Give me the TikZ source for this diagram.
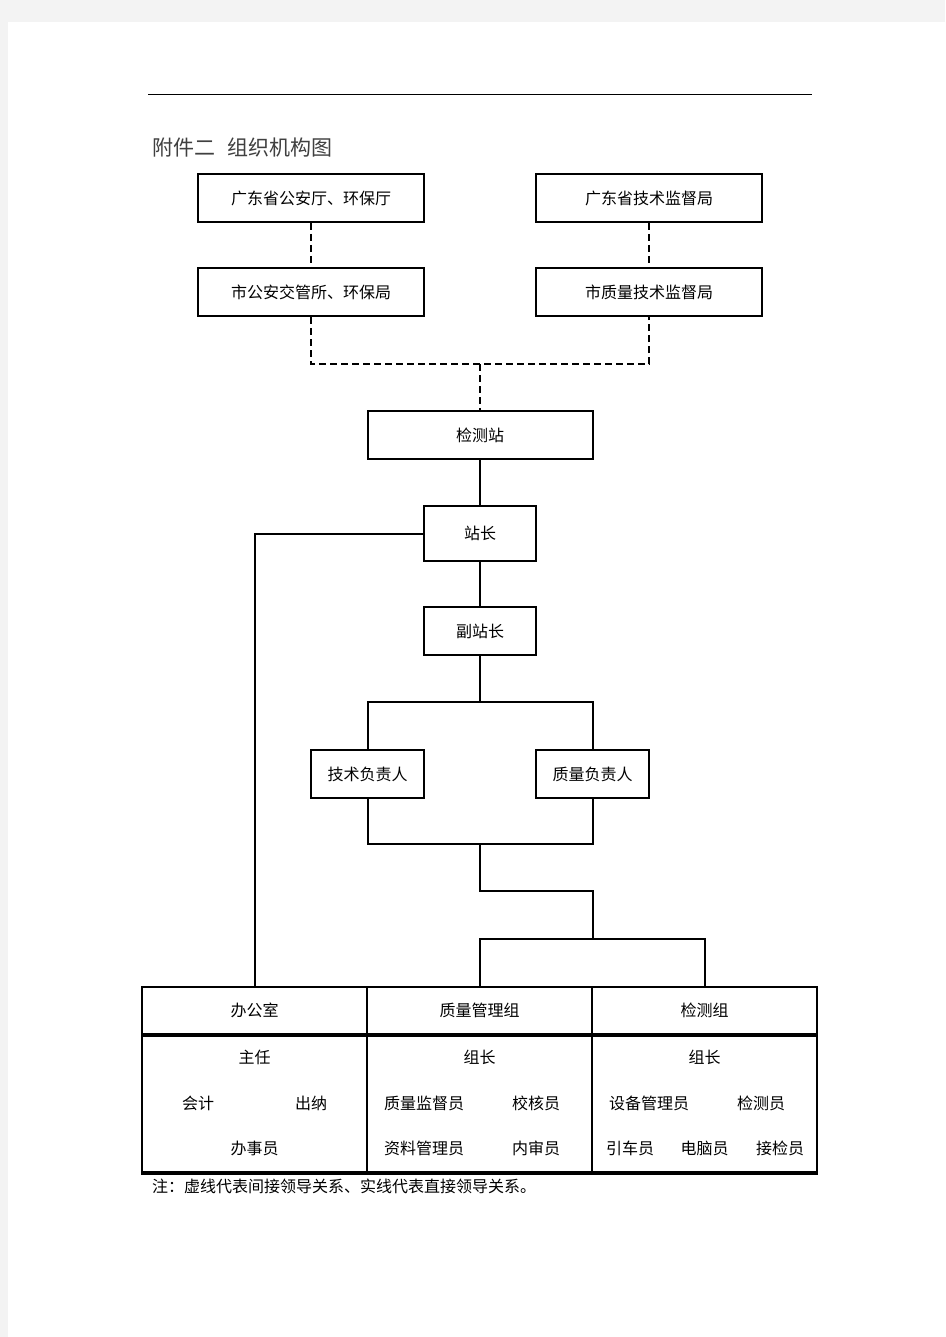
\documentclass[tikz,border=0pt]{standalone}
\usepackage{fontspec}
\newfontfamily\cjk{Noto Sans CJK SC}
\tikzset{every picture/.style={line width=2pt}}
\tikzset{
	orgbox/.style={draw, line width=2pt, inner sep=0pt, minimum height=48, font=\cjk\fontsize{16}{18}\selectfont},
	celltext/.style={inner sep=0pt, font=\cjk\fontsize{16}{18}\selectfont},
	indirect/.style={dash pattern=on 7pt off 4pt}}

\begin{document}
\begin{tikzpicture}[x=1pt,y=-1pt]
	%set diagram to page size
	\fill [fill={rgb, 255:red, 243; green, 243; blue, 243 }] (0,0) rectangle (945,1337);
	\fill [white] (8,22) rectangle (945,1337);
	\path [use as bounding box] (0,0) rectangle (945,1337);

	%Straight Lines header rule
	\draw [line width=1pt] (148,95) -- (812,95) ;
	% Text Node
	\draw (151,148) node [anchor=west, inner sep=0pt, text=black!75, font=\cjk\fontsize{21}{24}\selectfont] (title) {附件二\hspace{0.6em}组织机构图};

	%Shape: Rectangle
	\draw (311,198) node [orgbox, minimum width=226] (gdst) {广东省公安厅、环保厅};
	\draw (649,198) node [orgbox, minimum width=226] (gdjd) {广东省技术监督局};
	\draw (311,292) node [orgbox, minimum width=226] (sgaj) {市公安交管所、环保局};
	\draw (649,292) node [orgbox, minimum width=226] (szjj) {市质量技术监督局};
	\draw (480,435) node [orgbox, minimum width=225] (jcz) {检测站};
	\draw (480,533.5) node [orgbox, minimum width=112, minimum height=55] (zhz) {站长};
	\draw (480,631) node [orgbox, minimum width=112] (fzz) {副站长};
	\draw (367.5,774) node [orgbox, minimum width=113] (jsfz) {技术负责人};
	\draw (592.5,774) node [orgbox, minimum width=113] (zlfz) {质量负责人};

	%Shape: Table
	\draw (254.5,1010.5) node [orgbox, minimum width=225, minimum height=47] (bgs) {办公室};
	\draw (479.5,1010.5) node [orgbox, minimum width=225, minimum height=47] (zlz) {质量管理组};
	\draw (704.5,1010.5) node [orgbox, minimum width=225, minimum height=47] (jcg) {检测组};
	\draw (254.5,1103) node [orgbox, minimum width=225, minimum height=138] (bgsb) {};
	\draw (479.5,1103) node [orgbox, minimum width=225, minimum height=138] (zlzb) {};
	\draw (704.5,1103) node [orgbox, minimum width=225, minimum height=138] (jcgb) {};
	\draw [line width=3pt] (bgs.south west) -- (jcg.south east) ;
	\draw [line width=3pt] (bgsb.south west) -- (jcgb.south east) ;

	% Text Node
	\draw (254.5,1057) node [celltext] (zhuren) {主任};
	\draw (198,1103) node [celltext] (kuaiji) {会计};
	\draw (311,1103) node [celltext] (chuna) {出纳};
	\draw (254.5,1148) node [celltext] (bsy) {办事员};
	\draw (479.5,1057) node [celltext] (zlzz) {组长};
	\draw (424,1103) node [celltext] (zljd) {质量监督员};
	\draw (536,1103) node [celltext] (jhy) {校核员};
	\draw (424,1148) node [celltext] (zlgl) {资料管理员};
	\draw (536,1148) node [celltext] (nsy) {内审员};
	\draw (704.5,1057) node [celltext] (jczz) {组长};
	\draw (649,1103) node [celltext] (sbgl) {设备管理员};
	\draw (761,1103) node [celltext] (jcy) {检测员};
	\draw (630,1148) node [celltext] (ycy) {引车员};
	\draw (704.5,1148) node [celltext] (dny) {电脑员};
	\draw (780,1148) node [celltext] (jjy) {接检员};

	% Text Node
	\draw (151,1186) node [anchor=west, celltext] (note) {注：虚线代表间接领导关系、实线代表直接领导关系。};

	%Straight Lines dashed (indirect)
	\coordinate (dashjoin) at (480,364);
	\draw [indirect] (gdst) -- (sgaj) ;
	\draw [indirect] (gdjd) -- (szjj) ;
	\draw [indirect] (sgaj.south) |- (dashjoin) -| (szjj.south) ;
	\draw [indirect] (dashjoin) -- (jcz.north) ;

	%Straight Lines solid (direct)
	\coordinate (fork1) at (480,702);
	\coordinate (merge) at (480,844);
	\coordinate (fork2) at (592.5,939);
	\draw (jcz) -- (zhz) ;
	\draw (zhz) -- (fzz) ;
	\draw (fzz.south) -- (fork1) ;
	\draw (jsfz.north) |- (fork1) -| (zlfz.north) ;
	\draw (jsfz.south) |- (merge) -| (zlfz.south) ;
	\draw (merge) -- ++(0,47) -| (fork2) ;
	\draw (zlz.north) |- (fork2) -| (jcg.north) ;
	\draw (zhz.west) -| (bgs.north) ;

\end{tikzpicture}
\end{document}
